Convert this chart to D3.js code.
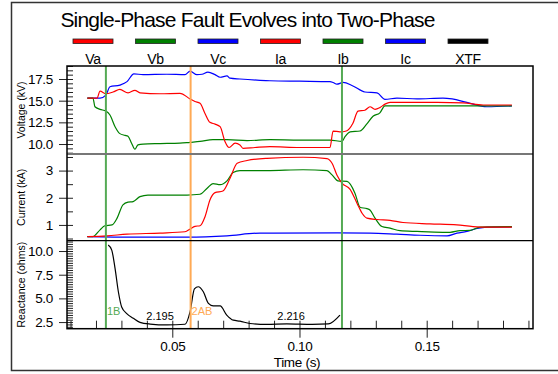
<!DOCTYPE html>
<html>
<head>
<meta charset="utf-8">
<script src="https://cdn.jsdelivr.net/npm/d3@7"></script>
<style>
  body { margin: 0; background: #fff; }
  text { font-family: "Liberation Sans", Arial, sans-serif; }
</style>
</head>
<body>
<div class="canvas"></div>
<script>
// data: [time (s), value]
const Va = [[0.0166,15.3],[0.0204,15.3],[0.0216,16.1],[0.0239,15.8],[0.0267,16.0],[0.0294,16.3],[0.0326,15.9],[0.0353,16.2],[0.0373,15.9],[0.0452,15.8],[0.0530,15.85],[0.0570,15.2],[0.0589,14.9],[0.0609,14.7],[0.0629,13.5],[0.0648,12.5],[0.0668,12.3],[0.0688,12.0],[0.0707,10.3],[0.0723,9.6],[0.0747,10.1],[0.0766,9.9],[0.0778,9.5],[0.0825,9.6],[0.0884,9.7],[0.1000,9.6],[0.1120,9.6],[0.1132,11.5],[0.1159,11.4],[0.1184,11.5],[0.1210,12.4],[0.1230,13.8],[0.1257,13.9],[0.1277,14.3],[0.1297,14.0],[0.1316,14.2],[0.1336,14.6],[0.1356,14.8],[0.1407,14.8],[0.1541,14.8],[0.1643,14.75],[0.1722,14.5],[0.1835,14.5]];
const Vb = [[0.0166,15.3],[0.0188,15.3],[0.0196,14.3],[0.0216,14.0],[0.0239,13.8],[0.0255,13.35],[0.0275,12.0],[0.0294,11.2],[0.0314,11.0],[0.0326,10.9],[0.0340,10.1],[0.0353,9.4],[0.0365,9.9],[0.0385,10.0],[0.0452,10.05],[0.0530,10.1],[0.0570,10.2],[0.0609,10.3],[0.0660,10.5],[0.0715,10.5],[0.0794,10.4],[0.0884,10.5],[0.1000,10.45],[0.1120,10.45],[0.1167,10.3],[0.1179,10.85],[0.1199,11.4],[0.1238,11.5],[0.1264,12.3],[0.1289,13.2],[0.1316,13.6],[0.1336,14.4],[0.1356,14.4],[0.1541,14.4],[0.1835,14.4]];
const Vc = [[0.0166,15.3],[0.0216,15.3],[0.0239,15.65],[0.0255,16.6],[0.0294,16.8],[0.0322,17.2],[0.0349,18.1],[0.0385,18.0],[0.0479,18.05],[0.0550,18.0],[0.0570,18.4],[0.0597,18.0],[0.0617,18.05],[0.0640,18.3],[0.0668,18.0],[0.0688,17.7],[0.0715,17.85],[0.0727,17.6],[0.0766,17.5],[0.0845,17.35],[0.0884,17.3],[0.1000,17.25],[0.1120,17.2],[0.1132,17.1],[0.1147,16.9],[0.1171,17.1],[0.1210,16.7],[0.1257,16.0],[0.1305,15.9],[0.1336,15.15],[0.1383,15.3],[0.1462,15.2],[0.1564,15.3],[0.1600,15.2],[0.1658,14.8],[0.1737,14.3],[0.1835,14.4]];

const Ia = [[0.0166,0.57],[0.0243,0.60],[0.0322,0.66],[0.0452,0.70],[0.0550,0.75],[0.0570,0.85],[0.0589,0.95],[0.0609,0.97],[0.0629,1.31],[0.0648,1.92],[0.0668,2.19],[0.0699,2.25],[0.0727,2.72],[0.0755,3.27],[0.0794,3.37],[0.0872,3.45],[0.1014,3.49],[0.1108,3.44],[0.1128,3.27],[0.1147,2.84],[0.1167,2.54],[0.1199,2.31],[0.1226,1.8],[0.1246,1.43],[0.1265,1.25],[0.1305,1.2],[0.1356,1.17],[0.1407,1.09],[0.1513,1.04],[0.1619,1.0],[0.1682,0.94],[0.1737,0.92],[0.1835,0.92]];
const Ib = [[0.0166,0.57],[0.0188,0.57],[0.0216,0.82],[0.0235,0.97],[0.0263,1.0],[0.0283,1.25],[0.0306,1.74],[0.0326,1.84],[0.0346,1.86],[0.0373,2.04],[0.0404,2.1],[0.0558,2.1],[0.0609,2.13],[0.0637,2.35],[0.0660,2.52],[0.0688,2.48],[0.0715,2.62],[0.0739,2.93],[0.0766,3.0],[0.0872,3.0],[0.1014,3.03],[0.1108,3.0],[0.1128,2.84],[0.1151,2.62],[0.1187,2.6],[0.1218,2.17],[0.1238,1.65],[0.1265,1.6],[0.1277,1.55],[0.1297,1.25],[0.1324,0.94],[0.1356,0.88],[0.1395,0.79],[0.1462,0.76],[0.1564,0.73],[0.1592,0.73],[0.1631,0.79],[0.1670,0.80],[0.1710,0.92],[0.1835,0.94]];
const Ic = [[0.0166,0.57],[0.0346,0.55],[0.0558,0.55],[0.0715,0.60],[0.0845,0.70],[0.0896,0.70],[0.1147,0.71],[0.1277,0.70],[0.1383,0.66],[0.1474,0.62],[0.1580,0.60],[0.1619,0.70],[0.1658,0.76],[0.1698,0.87],[0.1737,0.92],[0.1835,0.93]];

const XTF = [[0.0248,10.63],[0.0262,10.1],[0.0275,8.17],[0.0288,5.7],[0.0301,4.1],[0.0321,3.4],[0.0347,2.9],[0.0373,2.47],[0.0413,2.29],[0.0479,2.2],[0.0550,2.27],[0.0570,3.6],[0.0587,6.0],[0.0602,6.23],[0.0622,5.7],[0.0642,4.47],[0.0661,4.2],[0.0688,4.2],[0.0714,3.24],[0.0740,2.7],[0.0766,2.6],[0.0805,2.35],[0.0871,2.25],[0.0950,2.3],[0.1050,2.25],[0.1113,2.3],[0.1159,3.24]];

const legendNames = ['Va','Vb','Vc','Ia','Ib','Ic','XTF'];
const legendColors = ['#ff0000','#008000','#0000ff','#ff0000','#008000','#0000ff','#000000'];

// event markers (time, label)
const markers = [
  {t: 0.0239, label: '1B', colour: '#55aa55'},
  {t: 0.0572, label: '2AB', colour: '#ffaa55'},
  {t: 0.1167, label: '', colour: '#55aa55'}
];
// XTF readings written on the bottom panel
const readings = [{t: 0.0452, v: '2.195'}, {t: 0.0967, v: '2.216'}];

const xTicks = [0.05, 0.10, 0.15];
const vTicks = [10, 12.5, 15, 17.5];
const iTicks = [1, 2, 3];
const rTicks = [2.5, 5, 7.5, 10];

const dims = {left: 67, right: 533, top: 66, div1: 154, div2: 240.7, bottom: 328.7};

const svg = d3.select('.canvas')
  .append('svg')
  .attr('width', 558)
  .attr('height', 374);

// outer frame
svg.append('rect')
  .attr('x', 11.5).attr('y', 2.5)
  .attr('width', 560).attr('height', 368)
  .attr('fill', 'none').attr('stroke', '#333').attr('stroke-width', 1.5);

// title
svg.append('text')
  .attr('x', 247.5).attr('y', 27)
  .attr('text-anchor', 'middle')
  .attr('font-size', 21).attr('letter-spacing', -0.8)
  .text('Single-Phase Fault Evolves into Two-Phase');

// legend
const legendX = d3.scalePoint().domain(legendNames).range([93, 468]);
const legend = svg.append('g');
legend.selectAll('rect')
  .data(legendNames)
  .enter().append('rect')
  .attr('x', d => legendX(d) - 20).attr('y', 39)
  .attr('width', 40).attr('height', 4.5)
  .attr('fill', (d, i) => legendColors[i])
  .attr('stroke', '#222').attr('stroke-width', 0.8);
legend.selectAll('text')
  .data(legendNames)
  .enter().append('text')
  .attr('x', d => legendX(d)).attr('y', 63.5)
  .attr('text-anchor', 'middle').attr('font-size', 14).attr('letter-spacing', -0.3)
  .text(d => d);

// scales
const x = d3.scaleLinear().domain([0.00861, 0.19179]).range([dims.left, dims.right]);
const yV = d3.scaleLinear().domain([8.85, 19.0]).range([dims.div1, dims.top]);
const yI = d3.scaleLinear().domain([0.42, 3.61]).range([dims.div2, dims.div1]);
const yR = d3.scaleLinear().domain([1.8, 11.09]).range([dims.bottom, dims.div2]);

// y axes: minor ticks inside, major ticks with labels outside
const yAxis = (scale, major, minor, fmt) => {
  const g = svg.append('g');
  g.append('g')
    .attr('transform', `translate(${dims.left},0)`)
    .call(d3.axisRight(scale).tickValues(minor).tickSize(6).tickFormat(''));
  g.append('g')
    .attr('transform', `translate(${dims.left},0)`)
    .call(d3.axisLeft(scale).tickValues(major).tickSize(8).tickPadding(6).tickFormat(fmt));
  g.selectAll('.domain').remove();
  g.selectAll('line').attr('stroke', '#222');
  g.selectAll('text').attr('font-size', 13.5).attr('fill', '#000')
    .attr('font-family', '"Liberation Sans", Arial, sans-serif').attr('letter-spacing', -0.3);
};
yAxis(yV, vTicks, d3.range(9, 19.01, 0.5), d3.format('.1f'));
yAxis(yI, iTicks, d3.range(0.5, 3.51, 0.5), d3.format('d'));
yAxis(yR, rTicks, d3.range(2, 11.01, 0.25), d3.format('.1f'));

// x axis
const xAxisG = svg.append('g');
xAxisG.append('g')
  .attr('transform', `translate(0,${dims.bottom})`)
  .call(d3.axisTop(x).tickValues(d3.range(0.01, 0.1901, 0.01)).tickSize(8).tickFormat(''));
xAxisG.append('g')
  .attr('transform', `translate(0,${dims.bottom})`)
  .call(d3.axisBottom(x).tickValues(xTicks).tickSize(9).tickPadding(4).tickFormat(d3.format('.2f')));
xAxisG.selectAll('.domain').remove();
xAxisG.selectAll('line').attr('stroke', '#222');
xAxisG.selectAll('text').attr('font-size', 13.5).attr('fill', '#000')
  .attr('font-family', '"Liberation Sans", Arial, sans-serif').attr('letter-spacing', -0.3);

// axis titles
svg.append('text')
  .attr('x', 297).attr('y', 367)
  .attr('text-anchor', 'middle').attr('font-size', 13.5).attr('letter-spacing', -0.3)
  .text('Time (s)');
const yTitles = [
  {text: 'Voltage (kV)', cy: (dims.top + dims.div1) / 2},
  {text: 'Current (kA)', cy: (dims.div1 + dims.div2) / 2},
  {text: 'Reactance (ohms)', cy: (dims.div2 + dims.bottom) / 2}
];
svg.selectAll('.ytitle')
  .data(yTitles)
  .enter().append('text')
  .attr('class', 'ytitle')
  .attr('transform', d => `translate(24.5,${d.cy}) rotate(-90)`)
  .attr('text-anchor', 'middle').attr('font-size', 10.5)
  .text(d => d.text);

// lines
const drawSeries = (data, scale, colour) => {
  const line = d3.line().x(d => x(d[0])).y(d => scale(d[1])).curve(d3.curveMonotoneX);
  svg.append('path')
    .attr('d', line(data))
    .attr('fill', 'none')
    .attr('stroke', colour)
    .attr('stroke-width', 1.2);
};
drawSeries(Vc, yV, legendColors[2]);
drawSeries(Vb, yV, legendColors[1]);
drawSeries(Va, yV, legendColors[0]);
drawSeries(Ic, yI, legendColors[5]);
drawSeries(Ib, yI, legendColors[4]);
drawSeries(Ia, yI, legendColors[3]);
drawSeries(XTF, yR, legendColors[6]);

// markers
svg.selectAll('.marker')
  .data(markers)
  .enter().append('line')
  .attr('class', 'marker')
  .attr('x1', d => x(d.t)).attr('x2', d => x(d.t))
  .attr('y1', dims.top).attr('y2', dims.bottom)
  .attr('stroke', d => d.colour).attr('stroke-width', 2);
svg.selectAll('.mlabel')
  .data(markers)
  .enter().append('text')
  .attr('class', 'mlabel')
  .attr('x', d => x(d.t) + 1).attr('y', 315)
  .attr('font-size', 11).attr('fill', d => d.colour)
  .text(d => d.label);

svg.selectAll('.reading')
  .data(readings)
  .enter().append('text')
  .attr('class', 'reading')
  .attr('x', d => x(d.t)).attr('y', 319.5)
  .attr('text-anchor', 'middle').attr('font-size', 11)
  .text(d => d.v);

// panel dividers and border
svg.append('line')
  .attr('x1', dims.left).attr('x2', dims.right)
  .attr('y1', dims.div1).attr('y2', dims.div1)
  .attr('stroke', '#777').attr('stroke-width', 2);
svg.append('line')
  .attr('x1', dims.left).attr('x2', dims.right)
  .attr('y1', dims.div2).attr('y2', dims.div2)
  .attr('stroke', '#000').attr('stroke-width', 1.3);
svg.append('rect')
  .attr('x', dims.left).attr('y', dims.top)
  .attr('width', dims.right - dims.left).attr('height', dims.bottom - dims.top)
  .attr('fill', 'none').attr('stroke', '#000').attr('stroke-width', 1.5);
</script>
</body>
</html>
